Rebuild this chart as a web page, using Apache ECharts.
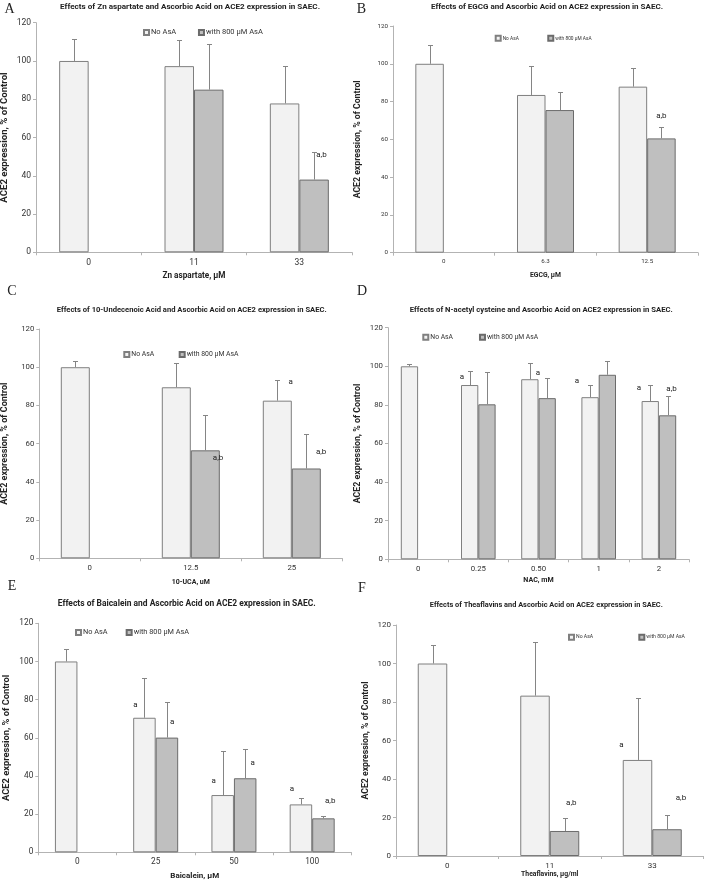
<!DOCTYPE html>
<html><head><meta charset="utf-8">
<script src="https://cdn.jsdelivr.net/npm/echarts@6/dist/echarts.min.js"></script>
<style>html,body{margin:0;padding:0;background:#fff}#c{width:706px;height:884px}</style>
</head><body><div id="c"></div>
<script>
// ---------- DATA ----------
const legendNames = ['No AsA', 'with 800 µM AsA'];
const yAxisName = 'ACE2 expression, % of Control';
const yTickValues = [0, 20, 40, 60, 80, 100, 120];
const panelLetters = ['A', 'B', 'C', 'D', 'E', 'F'];

// Panel A
const titleA = 'Effects of Zn aspartate and Ascorbic Acid on ACE2 expression in SAEC.';
const xNameA = 'Zn aspartate, µM';
const catsA = ['0', '11', '33'];
const noAsaA = [100, 97.3, 77.8];
const withAsaA = [null, 85, 38];
const errNoA = [111.6, 110.8, 97.2];
const errWithA = [null, 109, 52.4];
const notesA = [[2.21, 50.7, 'a,b']];

// Panel B
const titleB = 'Effects of EGCG and Ascorbic Acid on ACE2 expression in SAEC.';
const xNameB = 'EGCG, µM';
const catsB = ['0', '6.3', '12.5'];
const noAsaB = [100, 83.5, 87.9];
const withAsaB = [null, 75.5, 60.5];
const errNoB = [109.8, 98.6, 97.6];
const errWithB = [null, 85, 66.7];
const notesB = [[2.14, 72.5, 'a,b']];

// Panel C
const titleC = 'Effects of 10-Undecenoic Acid and Ascorbic Acid on ACE2 expression in SAEC.';
const xNameC = '10-UCA, uM';
const catsC = ['0', '12.5', '25'];
const noAsaC = [100, 89.5, 82.5];
const withAsaC = [null, 56.5, 47];
const errNoC = [103.3, 102.3, 93.5];
const errWithC = [null, 74.8, 65.3];
const notesC = [[1.99, 92.5, 'a'], [1.27, 52.4, 'a,b'], [2.29, 55.8, 'a,b']];

// Panel D
const titleD = 'Effects of N-acetyl cysteine and Ascorbic Acid on ACE2 expression in SAEC.';
const xNameD = 'NAC, mM';
const catsD = ['0', '0.25', '0.50', '1', '2'];
const noAsaD = [100, 90.3, 93.3, 84, 82];
const withAsaD = [null, 80.3, 83.5, 95.6, 74.6];
const errNoD = [101.2, 97.8, 101.5, 90.5, 90.5];
const errWithD = [null, 97.3, 93.7, 103, 84.7];
const notesD = [[0.73, 94.3, 'a'], [1.99, 96.7, 'a'], [2.64, 92.4, 'a'], [3.67, 88.6, 'a'], [4.21, 88, 'a,b']];

// Panel E
const titleE = 'Effects of Baicalein and Ascorbic Acid on ACE2 expression in SAEC.';
const xNameE = 'Baicalein, µM';
const catsE = ['0', '25', '50', '100'];
const noAsaE = [100, 70.5, 30, 25.1];
const withAsaE = [null, 60.1, 38.8, 17.8];
const errNoE = [106.6, 91.2, 53.2, 28.3];
const errWithE = [null, 78.9, 54, 19.2];
const notesE = [[0.74, 77, 'a'], [1.21, 68.3, 'a'], [1.74, 37.4, 'a'], [2.24, 46.6, 'a'], [2.74, 33.3, 'a'], [3.23, 27, 'a,b']];

// Panel F
const titleF = 'Effects of Theaflavins and Ascorbic Acid on ACE2 expression in SAEC.';
const xNameF = 'Theaflavins, µg/ml';
const catsF = ['0', '11', '33'];
const noAsaF = [100, 83.3, 49.9];
const withAsaF = [null, 13, 13.9];
const errNoF = [109.6, 111.3, 81.9];
const errWithF = [null, 19.6, 21.1];
const notesF = [[1.21, 27.4, 'a,b'], [1.70, 57.7, 'a'], [2.28, 30, 'a,b']];

// ---------- LAYOUT / STYLE ----------
const FONT = 'Roboto, "Open Sans", sans-serif';
// leg: [first icon x, second icon x, legend text end x, centre y]
const panels = [
  {title: titleA, xName: xNameA, cats: catsA, no: noAsaA, wi: withAsaA, eNo: errNoA, eWi: errWithA, notes: notesA,
   grid: [36, 22.7, 316, 229.6], bw: 29.5, tick: 8.5, yFs: 9.6, yGap: 26, xFs: 8.2, xGap: 19.6,
   tx: 190, ty: 7, tw: 260, lx: 9.5, ly: 9, leg: [143, 197, 261, 33]},
  {title: titleB, xName: xNameB, cats: catsB, no: noAsaB, wi: withAsaB, eNo: errNoB, eWi: errWithB, notes: notesB,
   grid: [393, 26, 305, 226.7], bw: 28.5, tick: 6.2, yFs: 8.7, yGap: 30.6, xFs: 6.8, xGap: 18.9,
   tx: 547, ty: 7, tw: 232, lx: 361.5, ly: 9, leg: [494.7, 546.3, 589.7, 37.7]},
  {title: titleC, xName: xNameC, cats: catsC, no: noAsaC, wi: withAsaC, eNo: errNoC, eWi: errWithC, notes: notesC,
   grid: [39.3, 329, 303, 229.3], bw: 29, tick: 7.8, yFs: 9, yGap: 29.8, xFs: 7, xGap: 20.5,
   tx: 191.7, ty: 310, tw: 270, lx: 12, ly: 291, leg: [123.3, 177.7, 236.7, 355]},
  {title: titleD, xName: xNameD, cats: catsD, no: noAsaD, wi: withAsaD, eNo: errNoD, eWi: errWithD, notes: notesD,
   grid: [388, 327.7, 301, 231.6], bw: 17.3, tick: 7.8, yFs: 8.8, yGap: 25.6, xFs: 7.1, xGap: 17.2,
   tx: 541.3, ty: 310, tw: 263, lx: 362, ly: 291, leg: [422.3, 478, 536.3, 337.7]},
  {title: titleE, xName: xNameE, cats: catsE, no: noAsaE, wi: withAsaE, eNo: errNoE, eWi: errWithE, notes: notesE,
   grid: [38.3, 623.3, 313, 229], bw: 22.5, tick: 8.3, yFs: 9.3, yGap: 26.9, xFs: 8, xGap: 19.7,
   tx: 186.7, ty: 604.3, tw: 258, lx: 12, ly: 586, leg: [75, 124.7, 187.3, 633.3]},
  {title: titleF, xName: xNameF, cats: catsF, no: noAsaF, wi: withAsaF, eNo: errNoF, eWi: errWithF, notes: notesF,
   grid: [396, 625, 307.5, 231], bw: 29.5, tick: 8, yFs: 8.7, yGap: 25.3, xFs: 6.8, xGap: 14.7,
   tx: 546.3, ty: 605, tw: 233, lx: 362, ly: 588, leg: [568, 637.3, 683, 636.7]}
];

const AXIS_COLOR = '#b3b3b3';
const ERR_COLOR = '#858585';
const lightStyle = {color: '#f2f2f2', borderColor: '#7f7f7f', borderWidth: 1};
const darkStyle = {color: '#bfbfbf', borderColor: '#6b6b6b', borderWidth: 1};
// approximate em widths of the legend strings in Roboto regular
const EM_NO = 3.35, EM_WITH = 7.57;

const measureCtx = document.createElement('canvas').getContext('2d');
function measureW(text, weight) {
  measureCtx.font = weight + ' 10px ' + FONT;
  return measureCtx.measureText(text).width;
}

function errRenderer(sign, bw) {
  return function (params, api) {
    const i = api.value(0), v = api.value(1), e = api.value(2);
    const p0 = api.coord([i, v]);
    const p1 = api.coord([i, e]);
    const x = Math.round(p0[0] + sign * bw / 2) + 0.5;
    const y1 = Math.round(p1[1]) + 0.5;
    return {type: 'group', children: [
      {type: 'line', shape: {x1: x, y1: p0[1], x2: x, y2: y1}, style: {stroke: ERR_COLOR, lineWidth: 1}},
      {type: 'line', shape: {x1: x - 2.5, y1: y1, x2: x + 2.5, y2: y1}, style: {stroke: ERR_COLOR, lineWidth: 1}}
    ]};
  };
}
function noteRenderer(notes) {
  return function (params, api) {
    const p = api.coord([api.value(0), api.value(1)]);
    return {type: 'text', x: p[0], y: p[1], style: {
      text: notes[params.dataIndex][2], fill: '#222', font: '8px ' + FONT, align: 'center', verticalAlign: 'middle'}};
  };
}

function build() {
  const grid = [], xAxis = [], yAxis = [], series = [], legend = [], graphic = [];
  panels.forEach((p, k) => {
    grid.push({left: p.grid[0], top: p.grid[1], width: p.grid[2], height: p.grid[3], containLabel: false, outerBoundsMode: 'none'});
    xAxis.push({type: 'category', gridIndex: k, data: p.cats, boundaryGap: true,
      name: p.xName, nameLocation: 'middle', nameGap: p.xGap,
      nameTextStyle: {fontFamily: FONT, fontSize: p.xFs, fontWeight: 'bold', color: '#222'},
      axisLine: {onZero: false, lineStyle: {color: AXIS_COLOR}}, axisTick: {show: true, length: 3, lineStyle: {color: AXIS_COLOR}, alignWithLabel: false},
      axisLabel: {fontFamily: FONT, fontSize: p.tick, color: '#333', margin: 6}, splitLine: {show: false}});
    xAxis.push({type: 'value', gridIndex: k, min: -0.5, max: p.cats.length - 0.5, show: false});
    yAxis.push({type: 'value', gridIndex: k, min: yTickValues[0], max: yTickValues[yTickValues.length - 1],
      interval: yTickValues[1] - yTickValues[0],
      name: yAxisName, nameLocation: 'middle', nameGap: p.yGap,
      nameTextStyle: {fontFamily: FONT, fontSize: p.yFs, fontWeight: 'bold', color: '#222'},
      axisLine: {show: true, onZero: false, lineStyle: {color: AXIS_COLOR}}, axisTick: {show: true, length: 3, lineStyle: {color: AXIS_COLOR}},
      axisLabel: {fontFamily: FONT, fontSize: p.tick, color: '#333', margin: 5}, splitLine: {show: false}});
    const xi = 2 * k;
    series.push({type: 'bar', name: legendNames[0], xAxisIndex: xi, yAxisIndex: k, data: p.no.map(v => v == null ? '-' : v),
      barWidth: p.bw, barGap: '0%', itemStyle: lightStyle, animation: false, emphasis: {disabled: true}});
    series.push({type: 'bar', name: legendNames[1], xAxisIndex: xi, yAxisIndex: k, data: p.wi.map(v => v == null ? '-' : v),
      barWidth: p.bw, barGap: '0%', itemStyle: darkStyle, animation: false, emphasis: {disabled: true}});
    const eNo = [], eWi = [];
    p.cats.forEach((c, i) => {
      if (p.eNo[i] != null) eNo.push([i, p.no[i], p.eNo[i]]);
      if (p.eWi[i] != null) eWi.push([i, p.wi[i], p.eWi[i]]);
    });
    series.push({type: 'custom', name: 'errNo' + k, xAxisIndex: xi, yAxisIndex: k, data: eNo, encode: {x: 0, y: [1, 2]},
      renderItem: errRenderer(-1, p.bw), z: 5, animation: false, silent: true});
    series.push({type: 'custom', name: 'errWith' + k, xAxisIndex: xi, yAxisIndex: k, data: eWi, encode: {x: 0, y: [1, 2]},
      renderItem: errRenderer(1, p.bw), z: 5, animation: false, silent: true});
    series.push({type: 'custom', name: 'notes' + k, xAxisIndex: xi + 1, yAxisIndex: k,
      data: p.notes.map(n => [n[0], n[1]]), encode: {x: 0, y: 1},
      renderItem: noteRenderer(p.notes), z: 6, animation: false, silent: true});
    const L = p.leg;
    const icon = 5, textOff = 2;
    const lfs = (L[2] - L[1] - icon - textOff) / EM_WITH;
    const gap = L[1] - (L[0] + icon + textOff + EM_NO * lfs);
    legend.push({data: legendNames, left: L[0], top: L[3] - lfs * 0.6, width: 240, orient: 'horizontal',
      itemWidth: icon, itemHeight: icon, itemGap: gap, icon: 'rect', selectedMode: false, padding: 0,
      textStyle: {fontFamily: FONT, fontSize: lfs, color: '#333', padding: [0, 0, 0, textOff - 5]}});
    const sc = p.tw / measureW(p.title, 'bold');
    graphic.push({type: 'text', x: p.tx, y: p.ty, scaleX: sc, scaleY: sc, style: {text: p.title, fill: '#222',
      font: 'bold 10px ' + FONT, align: 'center', verticalAlign: 'middle'}});
    graphic.push({type: 'text', x: p.lx, y: p.ly, style: {text: panelLetters[k], fill: '#222',
      font: '14px "Liberation Serif", "DejaVu Serif", serif', align: 'center', verticalAlign: 'middle'}});
  });
  const chart = echarts.init(document.getElementById('c'), null, {renderer: 'canvas'});
  chart.setOption({animation: false, backgroundColor: '#fff', grid, xAxis, yAxis, series, legend, graphic});
}

panels.forEach(p => measureW(p.title, 'bold'));
setTimeout(build, 30);
</script>
</body></html>
